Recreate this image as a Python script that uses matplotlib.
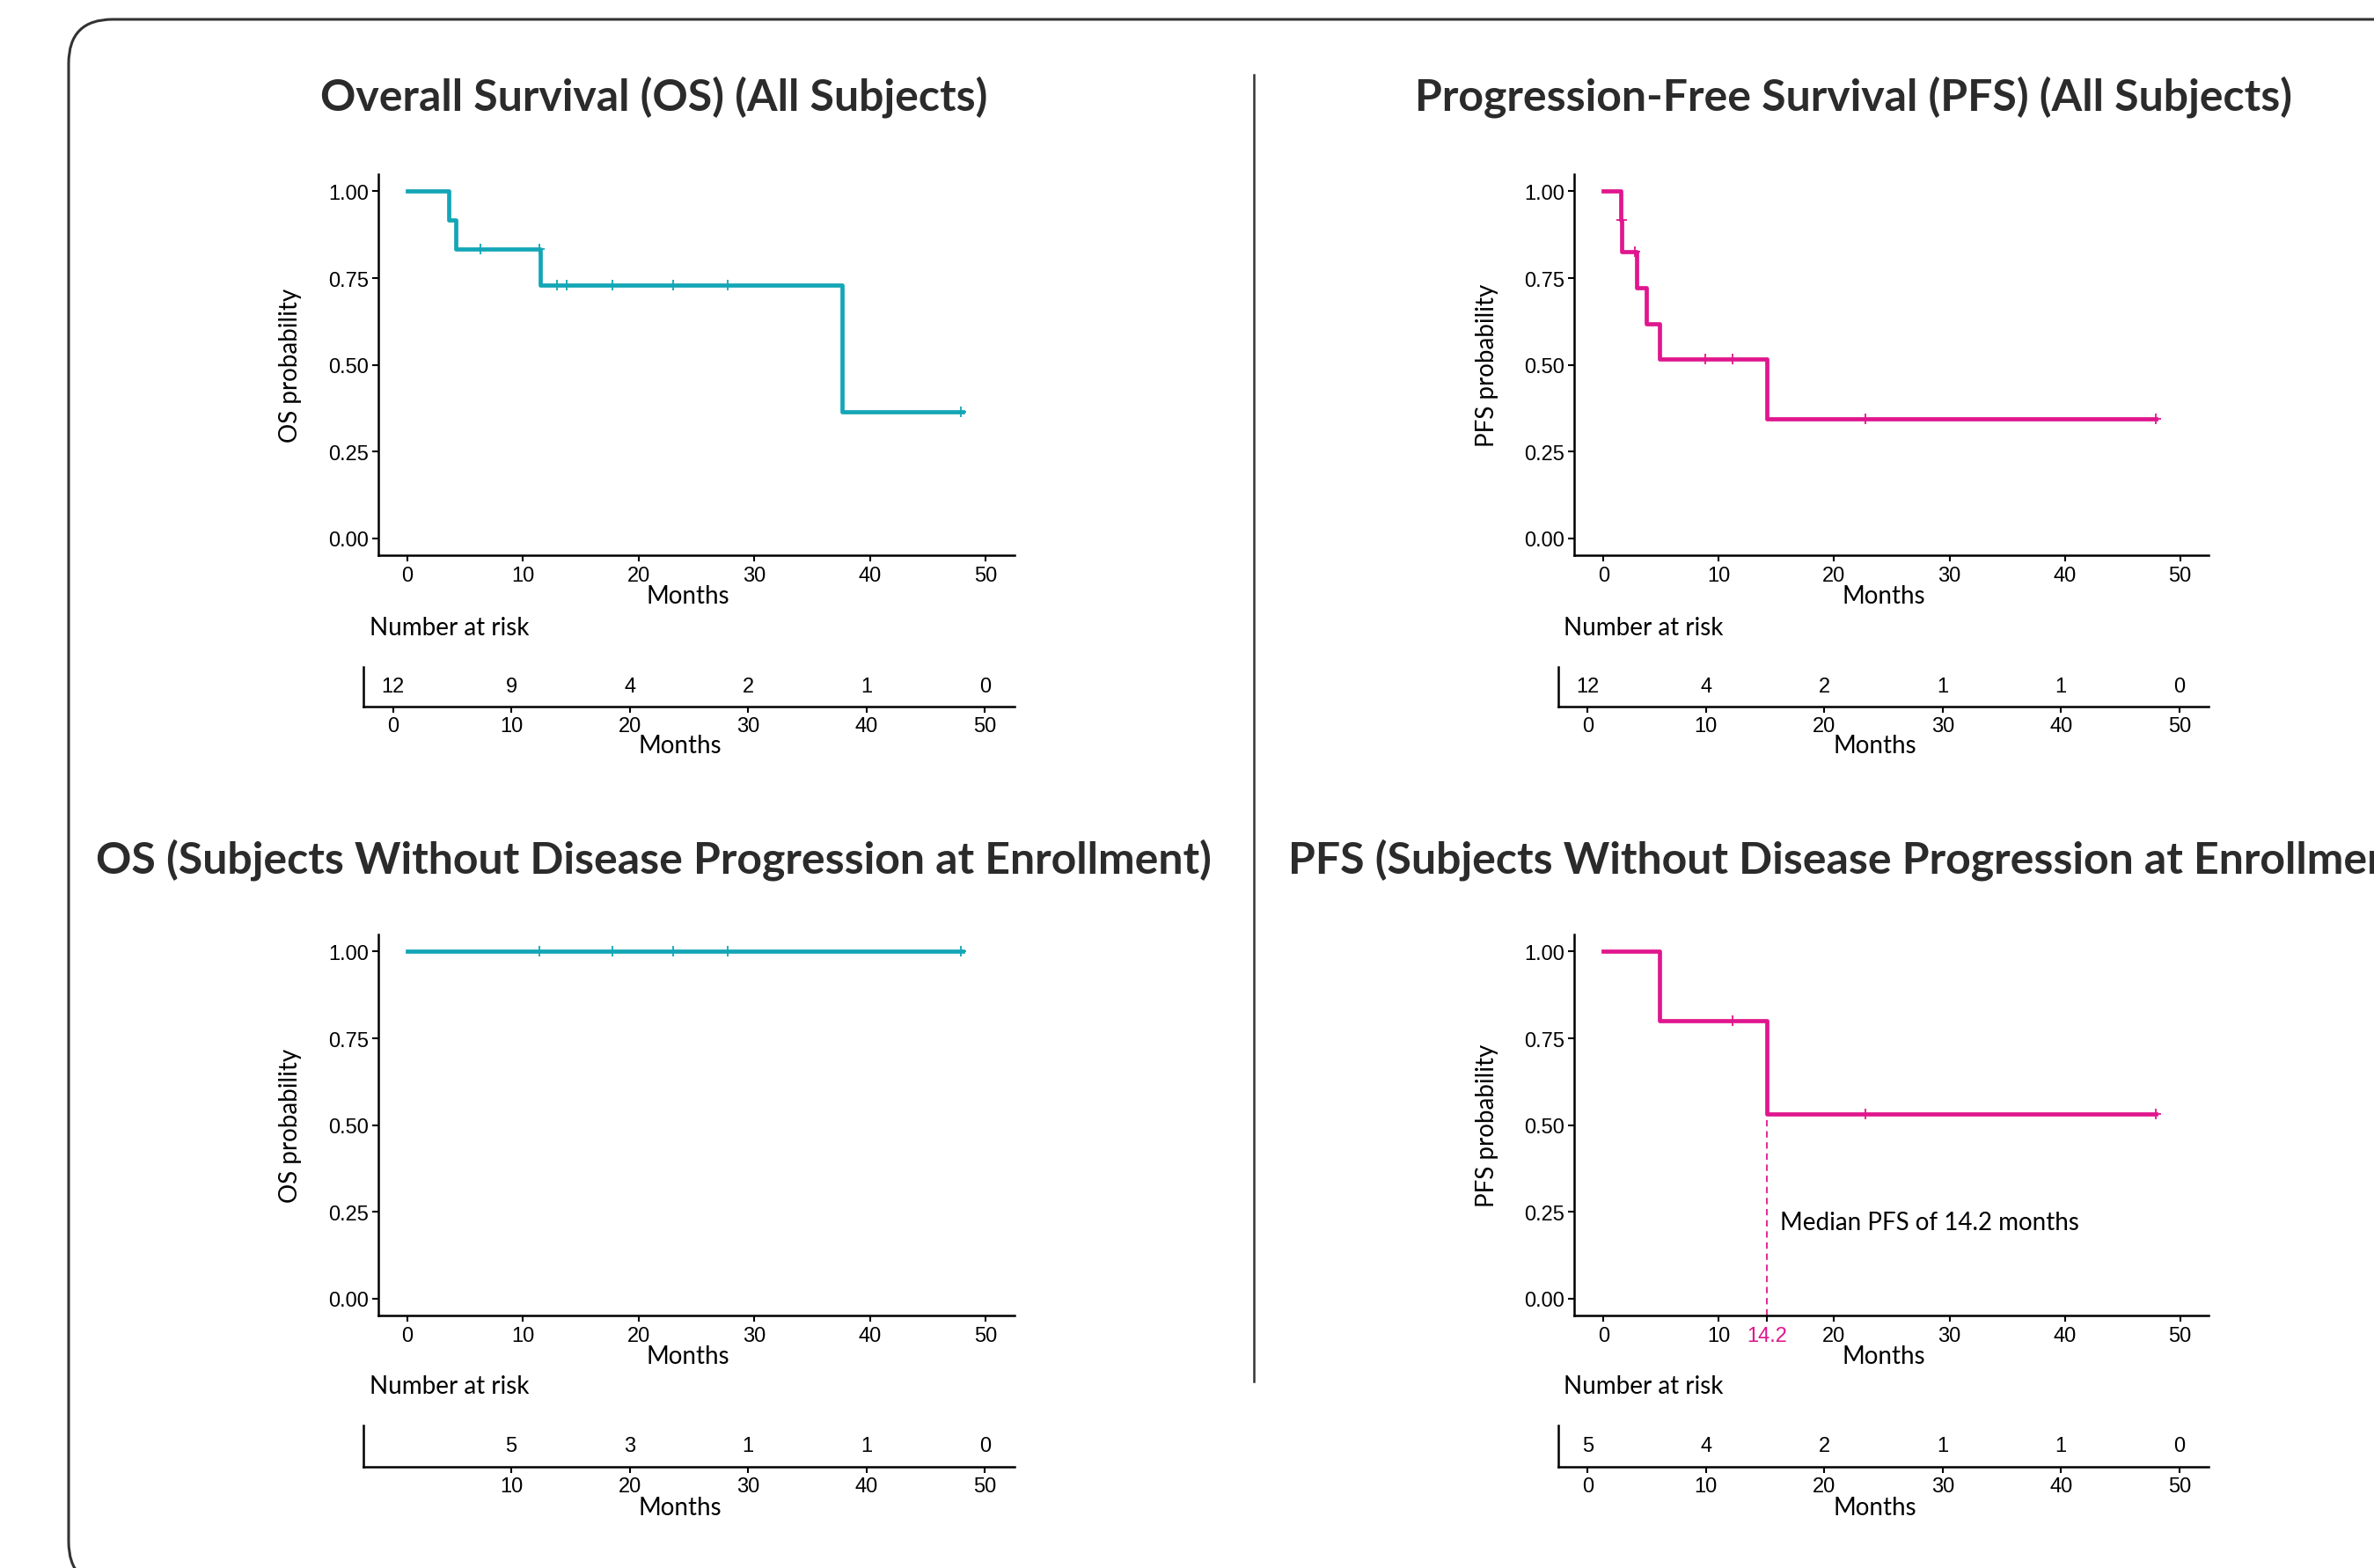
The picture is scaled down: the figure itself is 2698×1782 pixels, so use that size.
import matplotlib
matplotlib.use('Agg')
import matplotlib.pyplot as plt
from matplotlib.patches import FancyBboxPatch
from matplotlib.lines import Line2D

plt.rcParams['font.family'] = ['Lato', 'DejaVu Sans']
NARROW = ['Liberation Sans Narrow', 'Liberation Sans', 'DejaVu Sans']

TEAL = '#14a6b6'
MAGENTA = '#e0168e'

# ---- data ----
# OS, all subjects
os_all_t = [0, 3.6, 4.2, 11.5, 37.6, 48.0]
os_all_s = [1.0, 0.917, 0.833, 0.729, 0.365, 0.365]
os_all_cens_t = [6.3, 11.4, 12.9, 13.8, 17.7, 23.0, 27.7, 47.9]
os_all_cens_s = [0.833, 0.833, 0.729, 0.729, 0.729, 0.729, 0.729, 0.365]

# PFS, all subjects
pfs_all_t = [0, 1.5, 1.6, 2.9, 3.7, 4.9, 14.2, 47.9]
pfs_all_s = [1.0, 0.917, 0.825, 0.722, 0.619, 0.516, 0.344, 0.344]
pfs_all_cens_t = [1.55, 2.7, 8.8, 11.2, 22.7, 47.9]
pfs_all_cens_s = [0.917, 0.825, 0.516, 0.516, 0.344, 0.344]

# OS, subjects without progression at enrollment
os_sub_t = [0, 48.0]
os_sub_s = [1.0, 1.0]
os_sub_cens_t = [11.4, 17.7, 23.0, 27.7, 47.9]
os_sub_cens_s = [1.0, 1.0, 1.0, 1.0, 1.0]

# PFS, subjects without progression at enrollment
pfs_sub_t = [0, 4.9, 14.2, 47.9]
pfs_sub_s = [1.0, 0.8, 0.533, 0.533]
pfs_sub_cens_t = [11.2, 22.7, 47.9]
pfs_sub_cens_s = [0.8, 0.533, 0.533]
median_pfs = 14.2

# number at risk
risk_times = [0, 10, 20, 30, 40, 50]
os_all_risk = [12, 9, 4, 2, 1, 0]
pfs_all_risk = [12, 4, 2, 1, 1, 0]
os_sub_risk_times = [10, 20, 30, 40, 50]
os_sub_risk = [5, 3, 1, 1, 0]
pfs_sub_risk = [5, 4, 2, 1, 1, 0]

W, H = 2698, 1783
fig = plt.figure(figsize=(W / 100, H / 100), dpi=100)

# layout in reference (1568 x 1036) pixel units
SW, SH = 1568, 1036


def rect(l, r, t, b):
    return [l / SW, 1 - b / SH, (r - l) / SW, (b - t) / SH]


def style_axes(ax):
    for s in ['top', 'right']:
        ax.spines[s].set_visible(False)
    for s in ['left', 'bottom']:
        ax.spines[s].set_linewidth(1.8)
        ax.spines[s].set_color('black')
    ax.tick_params(length=5, width=1.5, labelsize=17, pad=3)
    for lab in ax.get_xticklabels() + ax.get_yticklabels():
        lab.set_family(NARROW)


def km_panel(pos, t, s, ct, cs, color, ylabel):
    ax = fig.add_axes(pos)
    ax.step(t, s, where='post', color=color, lw=3.4)
    ax.plot(ct, cs, ls='none', marker='+', ms=9, mew=1.3, color=color)
    ax.set_xlim(-2.5, 52.5)
    ax.set_ylim(-0.05, 1.05)
    ax.set_xticks([0, 10, 20, 30, 40, 50])
    ax.set_yticks([0, 0.25, 0.5, 0.75, 1.0])
    ax.set_yticklabels(['0.00', '0.25', '0.50', '0.75', '1.00'])
    style_axes(ax)
    ax.text(0.487, -0.105, 'Months', transform=ax.transAxes, ha='center',
            va='center', fontsize=20)
    ax.text(-0.138, 0.5, ylabel, transform=ax.transAxes, ha='center',
            va='center', rotation=90, fontsize=20)
    return ax


def risk_panel(pos, times, counts, ticks, label_x, label_y):
    ax = fig.add_axes(pos)
    ax.set_xlim(-2.5, 52.5)
    ax.set_ylim(0, 1)
    ax.set_yticks([])
    ax.set_xticks(ticks)
    style_axes(ax)
    for x, n in zip(times, counts):
        ax.text(x, 0.5, str(n), ha='center', va='center', fontsize=17,
                family=NARROW)
    ax.text(0.487, -1.0, 'Months', transform=ax.transAxes, ha='center',
            va='center', fontsize=20)
    fig.text(label_x / SW, 1 - label_y / SH, 'Number at risk', ha='left',
             va='center', fontsize=20)
    return ax


# top row
km_panel(rect(250, 670, 115.5, 367.5), os_all_t, os_all_s, os_all_cens_t,
         os_all_cens_s, TEAL, 'OS probability')
km_panel(rect(1040, 1459, 115.5, 367.5), pfs_all_t, pfs_all_s, pfs_all_cens_t,
         pfs_all_cens_s, MAGENTA, 'PFS probability')
risk_panel(rect(240, 670, 441, 467), risk_times, os_all_risk, risk_times, 244, 415)
risk_panel(rect(1029, 1459, 441, 467), risk_times, pfs_all_risk, risk_times, 1033, 415)

# bottom row
km_panel(rect(250, 670, 617.5, 869.5), os_sub_t, os_sub_s, os_sub_cens_t,
         os_sub_cens_s, TEAL, 'OS probability')
ax = km_panel(rect(1040, 1459, 617.5, 869.5), pfs_sub_t, pfs_sub_s,
              pfs_sub_cens_t, pfs_sub_cens_s, MAGENTA, 'PFS probability')
ax.plot([median_pfs, median_pfs], [-0.05, pfs_sub_s[2]], ls=(0, (4, 3)),
        color=MAGENTA, lw=1.3)
ax.set_xticks([0, 10, median_pfs, 20, 30, 40, 50])
ax.set_xticklabels(['0', '10', '14.2', '20', '30', '40', '50'])
for lab in ax.get_xticklabels():
    lab.set_family(NARROW)
ax.get_xticklabels()[2].set_color(MAGENTA)
ax.text(median_pfs + 1.1, 0.22, 'Median PFS of %.1f months' % median_pfs,
        ha='left', va='center', fontsize=20)

risk_panel(rect(240, 670, 942, 969), os_sub_risk_times, os_sub_risk,
           os_sub_risk_times, 244, 916)
risk_panel(rect(1029, 1459, 942, 969), risk_times, pfs_sub_risk, risk_times, 1033, 916)

# titles
title_kw = dict(ha='center', va='center', fontsize=36, fontweight='bold',
                color='#2b2b2b')
fig.text(432 / SW, 1 - 64 / SH, 'Overall Survival (OS) (All Subjects)', **title_kw)
fig.text(1224.5 / SW, 1 - 64 / SH, 'Progression-Free Survival (PFS) (All Subjects)', **title_kw)
fig.text(432 / SW, 1 - 568 / SH, 'OS (Subjects Without Disease Progression at Enrollment)', **title_kw)
fig.text(1224.5 / SW, 1 - 568 / SH, 'PFS (Subjects Without Disease Progression at Enrollment)', **title_kw)

# divider and rounded frame
fig.add_artist(Line2D([828 / SW, 828 / SW], [1 - 50 / SH, 1 - 913 / SH],
                      transform=fig.transFigure, color='#333333', lw=1.8))
frame = FancyBboxPatch((78, -20), 2800, H - 3,
                       boxstyle='round,pad=0,rounding_size=50',
                       transform=None, fill=False, ec='#333333', lw=2.2)
fig.add_artist(frame)

fig.savefig('out.png', dpi=100)
